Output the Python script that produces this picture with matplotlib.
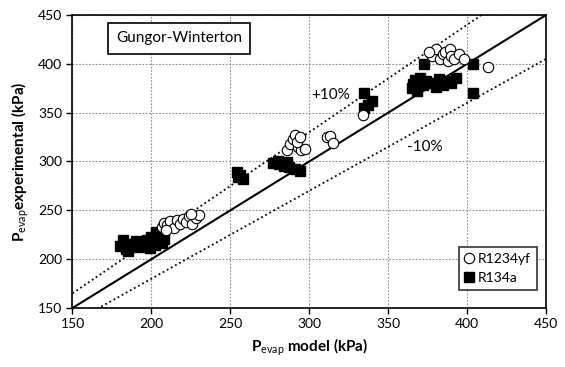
import matplotlib
matplotlib.use("Agg")
import matplotlib.pyplot as plt
import numpy as np

plt.rcParams['font.family'] = ['Lato', 'DejaVu Sans']
plt.rcParams['mathtext.fontset'] = 'custom'
plt.rcParams['mathtext.rm'] = 'Lato'
plt.rcParams['mathtext.bf'] = 'Lato:bold'

# R1234yf (open circles)
yf_model = [207, 208, 210, 212, 214, 216, 218, 220, 222, 224, 226, 228, 230, 225, 209,
            286, 288, 290, 291, 293, 295, 297, 292, 294,
            311, 313, 315, 334,
            378, 380, 383, 385, 386, 388, 389, 390, 392, 395, 398, 413, 376]
yf_exp = [233, 237, 235, 239, 232, 240, 236, 241, 238, 244, 236, 242, 245, 246, 230,
          312, 318, 323, 327, 315, 312, 313, 320, 325,
          325, 326, 319, 348,
          408, 415, 405, 410, 412, 403, 415, 408, 405, 410, 405, 397, 412]

# R134a (filled squares)
r134_model = [180, 182, 184, 186, 188, 190, 192, 195, 197, 199, 200, 202, 203, 205, 207, 208, 185,
              254, 256, 258, 255,
              277, 281, 284, 287, 291, 294, 280, 286,
              335, 337, 340, 335,
              365, 366, 368, 370, 372, 374, 377, 380, 382, 385, 388, 390, 393, 373, 404, 404, 367]
r134_exp = [213, 220, 210, 216, 213, 219, 212, 215, 220, 211, 223, 215, 228, 218, 217, 221, 208,
            289, 286, 282, 284,
            298, 297, 295, 294, 292, 290, 300, 299,
            370, 358, 362, 355,
            375, 379, 372, 385, 378, 382, 380, 376, 384, 378, 382, 380, 386, 400, 400, 370, 383]

ticks = [150, 200, 250, 300, 350, 400, 450]
ref_x = [150, 450]

fig = plt.figure(figsize=(5.65, 3.67), dpi=100)
ax = fig.add_axes([0.1283, 0.1608, 0.8381, 0.7983])

ax.set_xlim(150, 450)
ax.set_ylim(150, 450)
ax.set_xticks(ticks)
ax.set_yticks(ticks)
ax.grid(True, color='#8c8c8c', linestyle=(0, (1.5, 1.5)), linewidth=0.8)
ax.set_axisbelow(True)

rx = np.array(ref_x, dtype=float)
ax.plot(rx, rx, color='black', lw=1.5, zorder=2)
ax.plot(rx, 1.1 * rx, color='black', lw=1.3, linestyle=(0, (1, 1.6)), zorder=2)
ax.plot(rx, 0.9 * rx, color='black', lw=1.3, linestyle=(0, (1, 1.6)), zorder=2)

ax.plot(r134_model, r134_exp, linestyle='none', marker='s', markersize=7,
        markerfacecolor='black', markeredgecolor='black', label='R134a', zorder=3)
ax.plot(yf_model, yf_exp, linestyle='none', marker='o', markersize=7.5,
        markerfacecolor='white', markeredgecolor='black', markeredgewidth=0.8,
        label='R1234yf', zorder=4)

handles, labels = ax.get_legend_handles_labels()
leg = ax.legend([handles[1], handles[0]], [labels[1], labels[0]],
                loc='lower right', bbox_to_anchor=(0.981, 0.0614), fontsize=10,
                frameon=True, fancybox=False, edgecolor='black', handlelength=0.6,
                handletextpad=0.3, borderpad=0.45, labelspacing=0.5, borderaxespad=0)
leg.get_frame().set_linewidth(1.2)

ax.text(0.225, 0.92, 'Gungor-Winterton', transform=ax.transAxes, fontsize=11,
        ha='center', va='center',
        bbox=dict(boxstyle='square,pad=0.55', facecolor='white', edgecolor='black', linewidth=1.2))

ax.text(0.546, 0.727, '+10%', transform=ax.transAxes, fontsize=11, ha='center', va='center')
ax.text(0.745, 0.548, '-10%', transform=ax.transAxes, fontsize=11, ha='center', va='center')

for s in ax.spines.values():
    s.set_linewidth(1.2)
ax.tick_params(direction='out', length=4, width=1, labelsize=10, colors='black')

ax.set_xlabel(r'$\mathbf{P}_{\mathrm{evap}}$ model (kPa)', fontsize=11, fontweight='bold', labelpad=4)
ax.set_ylabel(r'$\mathbf{P}_{\mathrm{evap}}$experimental (kPa)', fontsize=11, fontweight='bold', labelpad=5)

fig.savefig('out.png', dpi=100)
